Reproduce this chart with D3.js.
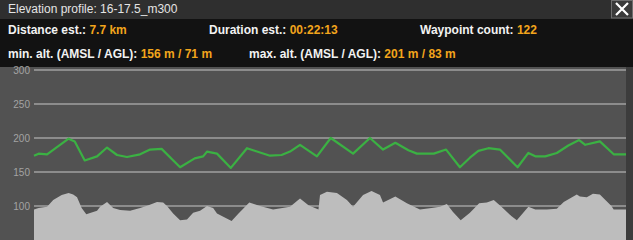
<!DOCTYPE html>
<html lang="en">
<head>
<meta charset="UTF-8" />
<title>Elevation profile</title>
<script src="https://d3js.org/d3.v7.min.js"></script>
<style>
  html, body { margin: 0; padding: 0; background: #121212; overflow: hidden; }
  svg { display: block; font-family: "Liberation Sans", Arial, sans-serif; }
  .tick-label { font-size: 10px; fill: #a3a3a3; }
  .info { font-size: 12px; font-weight: bold; fill: #f2f2f2; }
  .val { fill: #f2a51c; }
</style>
</head>
<body>
<svg id="chart" width="633" height="240"></svg>
<script>
// distance along route (km) and altitude (m)
const routeKm = [0.00, 0.06, 0.17, 0.45, 0.53, 0.66, 0.82, 0.95, 1.08, 1.21, 1.38, 1.51, 1.66, 1.90, 2.09, 2.20, 2.25, 2.38, 2.56, 2.77, 3.07, 3.22, 3.33, 3.46, 3.68, 3.86, 4.15, 4.37, 4.54, 4.70, 4.87, 4.98, 5.20, 5.36, 5.54, 5.67, 5.78, 5.91, 6.06, 6.29, 6.43, 6.52, 6.65, 6.80, 6.95, 7.09, 7.17, 7.36, 7.54, 7.70];
const routeAlt = [174, 177, 176, 199, 195, 167, 173, 186, 175, 172, 176, 183, 184, 157, 170, 173, 180, 177, 156, 185, 174, 175, 180, 190, 173, 200, 177, 200, 183, 193, 182, 177, 177, 183, 157, 171, 181, 185, 183, 157, 178, 173, 173, 178, 189, 197, 190, 195, 176, 176];

const terrainKm = [0.00, 0.06, 0.17, 0.25, 0.36, 0.45, 0.51, 0.56, 0.62, 0.68, 0.82, 0.86, 0.95, 1.03, 1.12, 1.25, 1.38, 1.49, 1.60, 1.68, 1.73, 1.81, 1.90, 1.99, 2.07, 2.16, 2.25, 2.33, 2.38, 2.57, 2.66, 2.80, 2.94, 3.11, 3.33, 3.46, 3.57, 3.70, 3.72, 3.81, 3.94, 4.07, 4.15, 4.28, 4.39, 4.50, 4.54, 4.70, 4.85, 5.02, 5.17, 5.28, 5.37, 5.45, 5.55, 5.67, 5.79, 5.89, 5.98, 6.08, 6.19, 6.28, 6.43, 6.52, 6.67, 6.80, 6.89, 7.06, 7.10, 7.19, 7.27, 7.36, 7.51, 7.54, 7.70];
const terrainAlt = [95, 97, 99, 109, 116, 119, 117, 113, 97, 88, 93, 99, 106, 97, 94, 93, 97, 101, 106, 105, 100, 89, 79, 80, 90, 93, 100, 97, 89, 78, 89, 105, 100, 95, 99, 111, 101, 95, 116, 121, 119, 109, 99, 116, 122, 116, 105, 114, 104, 95, 97, 99, 103, 91, 79, 90, 104, 105, 109, 99, 87, 79, 99, 95, 95, 96, 106, 117, 114, 113, 118, 117, 100, 95, 95];

const yTicks = [100, 150, 200, 250, 300];

const title = "Elevation profile: 16-17.5_m300";
const infoRows = [
  [["Distance est.: ", "7.7 km", 8], ["Duration est.: ", "00:22:13", 209], ["Waypoint count: ", "122", 420]],
  [["min. alt. (AMSL / AGL): ", "156 m / 71 m", 8], ["max. alt. (AMSL / AGL): ", "201 m / 83 m", 249]]
];

const svg = d3.select("#chart");
const W = 633, H = 240;
const plot = { left: 34, right: 626, top: 67, bottom: 240 };

// header
svg.append("rect").attr("width", W).attr("height", 19).attr("fill", "#2f2f2f");
svg.append("rect").attr("y", 19).attr("width", W).attr("height", plot.top - 19).attr("fill", "#121212");
svg.append("text").attr("x", 8).attr("y", 13)
  .attr("font-size", 12).attr("fill", "#e4e4e4").text(title);

// close button
svg.append("rect").attr("x", 611.5).attr("y", 0.5).attr("width", 21).attr("height", 17.5)
  .attr("fill", "#3a3a3a").attr("stroke", "#6e6e6e");
svg.append("path").attr("d", "M616,3L628,15M628,3L616,15")
  .attr("stroke", "#ffffff").attr("stroke-width", 2.2);

infoRows.forEach((row, i) => {
  row.forEach(([label, value, x]) => {
    const t = svg.append("text").attr("class", "info").attr("x", x).attr("y", 34 + i * 24);
    t.append("tspan").text(label);
    t.append("tspan").attr("class", "val").text(value);
  });
});

// plot background
svg.append("rect").attr("y", plot.top).attr("width", W).attr("height", H - plot.top).attr("fill", "#525252");
svg.append("rect").attr("x", plot.right).attr("y", plot.top).attr("width", W - plot.right)
  .attr("height", H - plot.top).attr("fill", "#3c3c3c");

const x = d3.scaleLinear().domain([0, 7.7]).range([plot.left, plot.right]);
const y = d3.scaleLinear().domain([50, 300]).range([240, 70]);

const g = svg.append("g");
g.selectAll(".grid").data(yTicks).enter().append("line")
  .attr("x1", plot.left).attr("x2", plot.right)
  .attr("y1", d => y(d)).attr("y2", d => y(d))
  .attr("stroke", "#8c8c8c").attr("stroke-width", 2);

g.selectAll(".tick-label").data(yTicks).enter().append("text")
  .attr("class", "tick-label")
  .attr("x", 30).attr("y", d => y(d) + 3.5)
  .attr("text-anchor", "end")
  .text(d => d);

const terrain = terrainKm.map((k, i) => ({ k, a: terrainAlt[i] }));
const route = routeKm.map((k, i) => ({ k, a: routeAlt[i] }));

g.append("path").datum(terrain)
  .attr("fill", "#bdbdbd")
  .attr("d", d3.area().x(d => x(d.k)).y0(y(50)).y1(d => y(d.a)));

g.append("path").datum(route)
  .attr("fill", "none")
  .attr("stroke", "#3bb143")
  .attr("stroke-width", 2.2)
  .attr("stroke-linejoin", "round")
  .attr("d", d3.line().x(d => x(d.k)).y(d => y(d.a)));
</script>
</body>
</html>
